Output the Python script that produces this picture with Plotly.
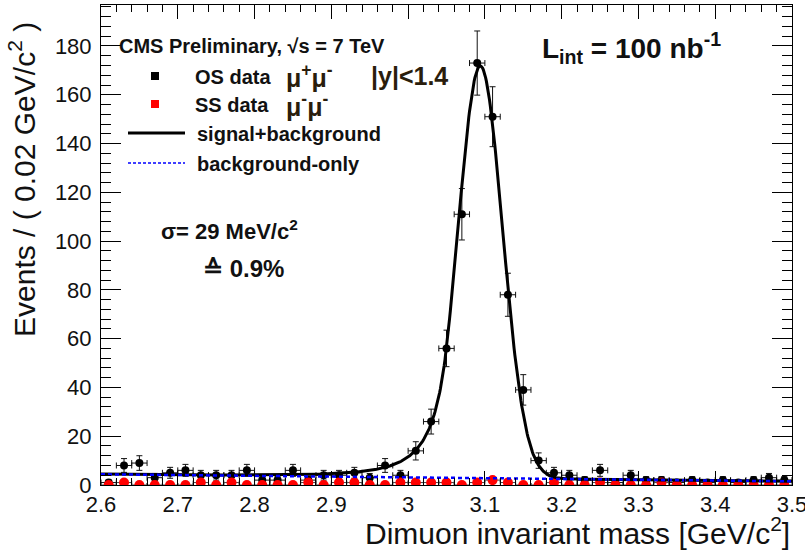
import numpy as np
import plotly.graph_objects as go

# ---------------------------------------------------------------------------
# Binned dimuon mass spectrum (0.02 GeV/c^2 bins, 2.6 - 3.5 GeV/c^2)
# ---------------------------------------------------------------------------
bin_centers = [
    2.61, 2.63, 2.65, 2.67, 2.69, 2.71, 2.73, 2.75, 2.77, 2.79,
    2.81, 2.83, 2.85, 2.87, 2.89, 2.91, 2.93, 2.95, 2.97, 2.99,
    3.01, 3.03, 3.05, 3.07, 3.09, 3.11, 3.13, 3.15, 3.17, 3.19,
    3.21, 3.23, 3.25, 3.27, 3.29, 3.31, 3.33, 3.35, 3.37, 3.39,
    3.41, 3.43, 3.45, 3.47, 3.49,
]

# opposite-sign pairs (mu+ mu-)
os_counts = [
    1, 8, 9, 3, 5, 6, 4, 4, 4, 6,
    2, 2, 6, 2, 4, 4, 5, 3, 8, 4,
    14, 26, 56, 111, 173, 151, 78, 39, 10, 5,
    4, 2, 6, 1, 4, 2, 2, 1, 2, 1,
    2, 1, 2, 3, 2,
]

# same-sign pairs (mu- mu-)
ss_counts = [
    0, 1, 0, 0, 0, 0, 1, 0, 1, 0,
    0, 0, 0, 1, 0, 1, 1, 0, 0, 1,
    1, 1, 1, 0, 1, 2, 1, 0, 0, 1,
    0, 0, 1, 0, 0, 0, 1, 0, 0, 0,
    0, 0, 0, 0, 0,
]

x_tick_vals = [2.6, 2.7, 2.8, 2.9, 3.0, 3.1, 3.2, 3.3, 3.4, 3.5]
x_tick_text = ["2.6", "2.7", "2.8", "2.9", "3", "3.1", "3.2", "3.3", "3.4", "3.5"]
y_tick_vals = [0, 20, 40, 60, 80, 100, 120, 140, 160, 180]
y_tick_text = ["0", "20", "40", "60", "80", "100", "120", "140", "160", "180"]

# fit model: Crystal Ball signal (sigma = 29 MeV/c^2) + linear background
half_bin = 0.01
cb_mean = 3.094
cb_sigma = 0.029
cb_alpha = 1.5
cb_n = 3.0
cb_norm = 169.0
bkg_at_low = 4.4      # background level at 2.6 GeV/c^2
bkg_slope = -3.2      # per GeV/c^2

X_RANGE = [2.6, 3.5000001]
Y_RANGE = [0, 196.8]

FONT = "Liberation Sans, Arial, Helvetica, sans-serif"


def crystal_ball(m):
    t = (m - cb_mean) / cb_sigma
    a = (cb_n / cb_alpha) ** cb_n * np.exp(-0.5 * cb_alpha ** 2)
    b = cb_n / cb_alpha - cb_alpha
    core = np.exp(-0.5 * t ** 2)
    tail = a * np.power(np.clip(b - t, 1e-9, None), -cb_n)
    return cb_norm * np.where(t > -cb_alpha, core, tail)


def background(m):
    return bkg_at_low + bkg_slope * (m - 2.6)


mass_grid = np.linspace(2.6, 3.5, 901)
bkg_curve = background(mass_grid)
total_curve = bkg_curve + crystal_ball(mass_grid)

os_err = np.sqrt(np.array(os_counts, dtype=float))
ss_err = np.sqrt(np.array(ss_counts, dtype=float))

fig = go.Figure()

fig.add_trace(go.Scatter(
    x=bin_centers, y=os_counts, mode="markers",
    marker=dict(color="black", size=8, symbol="circle"),
    error_y=dict(type="data", array=os_err, color="#111111", thickness=1, width=3),
    error_x=dict(type="constant", value=half_bin, color="#111111", thickness=1, width=3),
    showlegend=False,
))

fig.add_trace(go.Scatter(
    x=bin_centers, y=ss_counts, mode="markers",
    marker=dict(color="#ff0000", size=10, symbol="circle"),
    error_y=dict(type="data", array=ss_err, color="#444444", thickness=1, width=2),
    error_x=dict(type="constant", value=half_bin, color="#444444", thickness=1, width=2),
    showlegend=False,
))

fig.add_trace(go.Scatter(
    x=mass_grid, y=total_curve, mode="lines",
    line=dict(color="black", width=3),
    showlegend=False,
))

fig.add_trace(go.Scatter(
    x=mass_grid, y=bkg_curve, mode="lines",
    line=dict(color="#0000ff", width=2.5, dash="4px,3px"),
    showlegend=False,
))

# plot frame in pixels
L, R, T, B = 101, 13, 5, 71
W, H = 805, 556
PW, PH = W - L - R, H - T - B


def px(xp):
    return (xp - L) / PW


def py(yp):
    return (H - B - yp) / PH


axis_common = dict(
    showline=True, linecolor="black", linewidth=1, mirror="ticks",
    ticks="inside", tickcolor="black", tickwidth=1,
    showgrid=False, zeroline=False, ticklabeloverflow="allow",
    automargin=False,
    tickfont=dict(family=FONT, size=22, color="#111111"),
)

fig.update_xaxes(
    range=X_RANGE, tickvals=x_tick_vals, ticktext=x_tick_text, ticklen=14,
    minor=dict(ticks="inside", dtick=0.02, tick0=2.6, ticklen=7, tickcolor="black", showgrid=False),
    **axis_common,
)
fig.update_yaxes(
    range=Y_RANGE, tickvals=y_tick_vals, ticktext=y_tick_text, ticklen=20,
    minor=dict(ticks="inside", dtick=4, tick0=0, ticklen=10, tickcolor="black", showgrid=False),
    ticklabelstandoff=4,
    **axis_common,
)

ann = []


def text(xp, yp, s, size, xanchor="left", color="#111111", angle=0, yanchor="middle"):
    ann.append(dict(
        x=px(xp), y=py(yp), xref="paper", yref="paper", text=s, showarrow=False,
        xanchor=xanchor, yanchor=yanchor, textangle=angle,
        font=dict(family=FONT, size=size, color=color),
    ))


# axis titles
text(792, 531, "Dimuon invariant mass [GeV/c<sup>2</sup>]", 30, xanchor="right")
text(22, 180, "Events / ( 0.02 GeV/c<sup>2</sup> )", 30, xanchor="center", angle=-90)

# headline and luminosity
text(117, 46, "<b>CMS Preliminary, √s = 7 TeV</b>", 20)
text(540, 48, "<b>L<sub>int</sub> = 100 nb<sup>-1</sup></b>", 28)

# legend entries
text(193, 77, "<b>OS data</b>", 20)
text(284, 76, "<b>μ<sup>+</sup>μ<sup>-</sup></b>", 25, color="#2a1d0c")
text(369, 76, "<b>|y|<1.4</b>", 25, color="#2a1d0c")
text(193, 105, "<b>SS data</b>", 20)
text(284, 105, "<b>μ<sup>-</sup>μ<sup>-</sup></b>", 25, color="#2a1d0c")
text(195, 134, "<b>signal+background</b>", 20)
text(195, 164, "<b>background-only</b>", 20)

# resolution
text(159, 230, "<b>σ= 29 MeV/c<sup>2</sup></b>", 22)
text(201, 268, "<b>≙ 0.9%</b>", 24)

fig.update_layout(annotations=ann)

shapes = [
    dict(type="rect", xref="paper", yref="paper",
         x0=px(151), x1=px(159), y0=py(80), y1=py(72),
         fillcolor="black", line=dict(width=0)),
    dict(type="rect", xref="paper", yref="paper",
         x0=px(151), x1=px(159), y0=py(108), y1=py(100),
         fillcolor="#ff0000", line=dict(width=0)),
    dict(type="line", xref="paper", yref="paper",
         x0=px(128), x1=px(185), y0=py(133), y1=py(133),
         line=dict(color="black", width=3)),
    dict(type="line", xref="paper", yref="paper",
         x0=px(128), x1=px(185), y0=py(163), y1=py(163),
         line=dict(color="#0000ff", width=1.5, dash="3px,2px")),
]
fig.update_layout(shapes=shapes)

fig.update_layout(
    width=W, height=H,
    margin=dict(l=L, r=R, t=T, b=B, autoexpand=False),
    paper_bgcolor="white", plot_bgcolor="white",
    font=dict(family=FONT, color="#111111"),
)

fig.write_html("out.html")
